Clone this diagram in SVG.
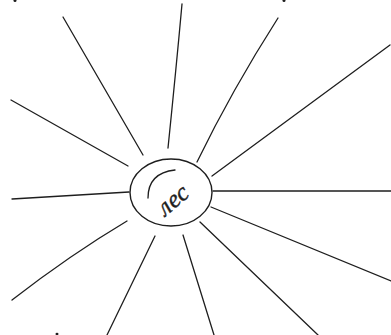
<svg xmlns="http://www.w3.org/2000/svg" width="391" height="335" viewBox="0 0 391 335">
<style>
.ray{fill:none;stroke:#1e1e1e;stroke-width:1.3;stroke-linecap:round}
.node{fill:#fff;stroke:#1e1e1e;stroke-width:1.4}
.lbl{font-family:"Liberation Serif","DejaVu Serif",serif;font-style:italic;font-size:25px;fill:#1e1e1e;stroke:#1e1e1e;stroke-width:0.4}
</style>
<rect width="391" height="335" fill="#fff"/>
<g id="connectors">
<path class="ray" d="M63,17 L143,155"/>
<path class="ray" d="M182,4 Q176,70 168,148"/>
<path class="ray" d="M278,18 Q232,90 197,162"/>
<path class="ray" d="M390,45 L212,176"/>
<path class="ray" d="M11,100 L128,166"/>
<path class="ray" d="M12,199 L129,192"/>
<path class="ray" d="M213,191 L391,191"/>
<path class="ray" d="M211,207 L391,281"/>
<path class="ray" d="M200,222 L318,335"/>
<path class="ray" d="M183,235 L214,335"/>
<path class="ray" d="M155,236 L107,335"/>
<path class="ray" d="M127,221 Q70,255 12,300"/>
</g>
<g id="center">
<ellipse class="node" cx="171" cy="192.5" rx="41" ry="33.5"/>
<path class="ray" d="M148,198 Q148,173 175,170"/>
<text class="lbl" x="178" y="206" text-anchor="middle" transform="rotate(-40 178 206)">лес</text>
</g>
<g id="marks" fill="#1e1e1e">
<ellipse cx="15" cy="0.5" rx="1.5" ry="1.5"/>
<ellipse cx="284" cy="0.5" rx="1.5" ry="1.5"/>
<ellipse cx="57" cy="334" rx="1.5" ry="1.2"/>
</g>
</svg>
